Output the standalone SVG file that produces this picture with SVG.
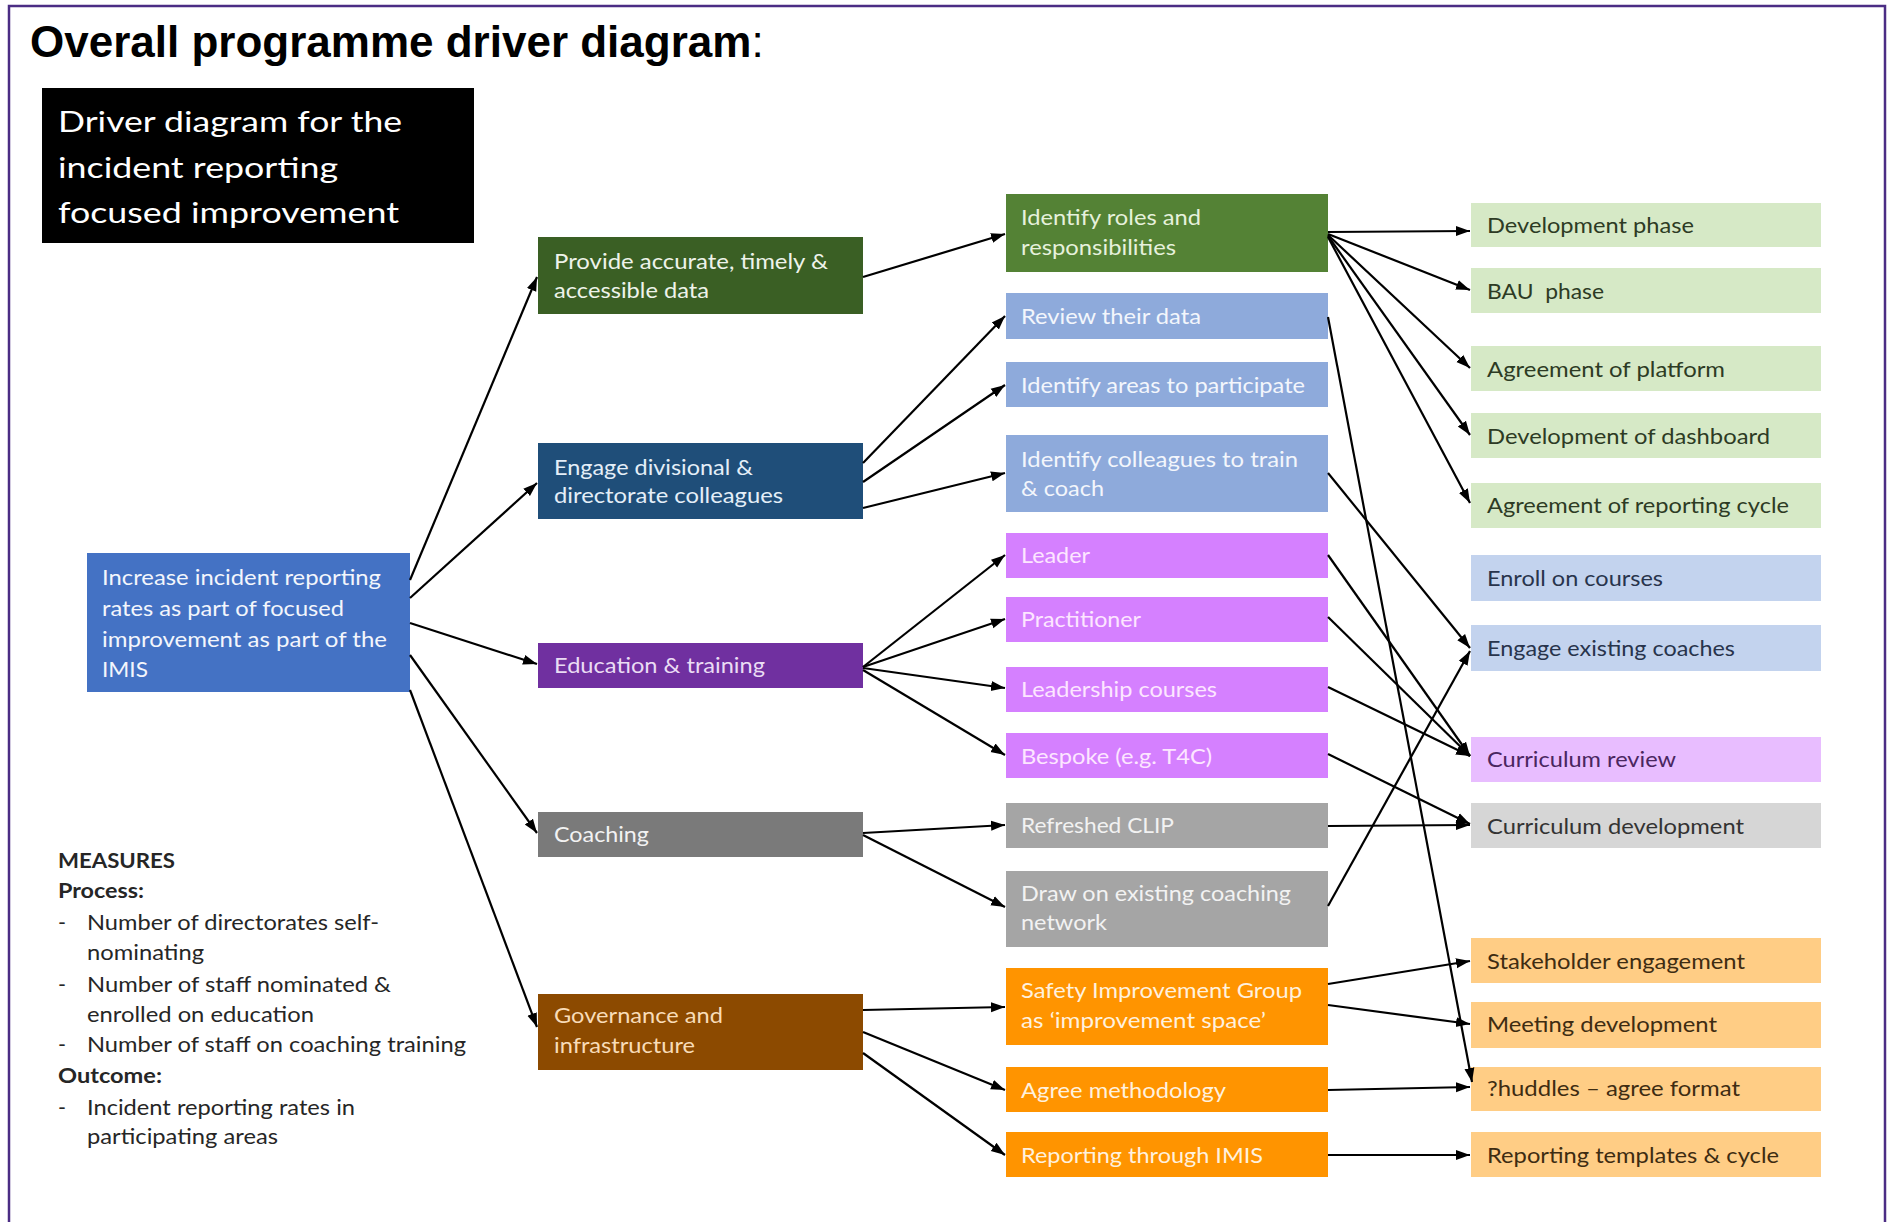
<svg xmlns="http://www.w3.org/2000/svg" width="1887" height="1222" viewBox="0 0 1887 1222">
<defs>
<marker id="ah" markerUnits="userSpaceOnUse" markerWidth="16" markerHeight="12" refX="14" refY="6" orient="auto"><path d="M0,1 L14,6 L0,11 z" fill="#000"/></marker>
<style>
.t{font-family:Lato,"Open Sans","DejaVu Sans",sans-serif;font-size:22px}
.bt{font-family:Lato,"Open Sans","DejaVu Sans",sans-serif;font-size:29px;fill:#fff}
.m{font-family:Lato,"Open Sans","DejaVu Sans",sans-serif;font-size:21.5px;fill:#262626}
.mb{font-weight:bold}
.c line{stroke:#000;stroke-width:2.2;marker-end:url(#ah)}
.w1{fill:#eef3ea}
.wb{fill:#e4eef8}
.wp{fill:#eadcf4}
.wg{fill:#f2f2f2}
.wo{fill:#f8dcb8}
.wr{fill:#e6f1dc}
.wl{fill:#f3f6fc}
.wv{fill:#fde6ff}
.wy{fill:#fff1de}
.d3g{fill:#2d3b24}
.d3b{fill:#28344c}
.d3p{fill:#4a2660}
.d3k{fill:#333}
.d3o{fill:#3e2c12}
</style>
</defs>
<rect width="1887" height="1222" fill="#fff"/>
<path d="M9,1222 V6 H1885 V1222" fill="none" stroke="#4b2d84" stroke-width="2.5"/>
<g id="title"><text x="30" y="57" font-family="'Liberation Sans',Arial,sans-serif" font-size="44" fill="#000"><tspan font-weight="bold">Overall programme driver diagram</tspan>:</text></g>

<g id="header-box">
<rect x="42" y="88" width="432" height="155" fill="#000"/>
<text class="bt" x="58" y="132" textLength="344" lengthAdjust="spacingAndGlyphs">Driver diagram for the</text>
<text class="bt" x="58" y="177.5" textLength="280" lengthAdjust="spacingAndGlyphs">incident reporting</text>
<text class="bt" x="58" y="223" textLength="341" lengthAdjust="spacingAndGlyphs">focused improvement</text>
</g>

<g id="measures">
<text class="m mb" x="58" y="868" textLength="117" lengthAdjust="spacingAndGlyphs">MEASURES</text>
<text class="m mb" x="58" y="898" textLength="86" lengthAdjust="spacingAndGlyphs">Process:</text>
<text class="m" x="58" y="930">-</text>
<text class="m" x="87" y="930" textLength="292" lengthAdjust="spacingAndGlyphs">Number of directorates self-</text>
<text class="m" x="87" y="960" textLength="117" lengthAdjust="spacingAndGlyphs">nominating</text>
<text class="m" x="58" y="992">-</text>
<text class="m" x="87" y="992" textLength="304" lengthAdjust="spacingAndGlyphs">Number of staff nominated &amp;</text>
<text class="m" x="87" y="1022" textLength="227" lengthAdjust="spacingAndGlyphs">enrolled on education</text>
<text class="m" x="58" y="1052">-</text>
<text class="m" x="87" y="1052" textLength="379" lengthAdjust="spacingAndGlyphs">Number of staff on coaching training</text>
<text class="m mb" x="58" y="1083" textLength="104" lengthAdjust="spacingAndGlyphs">Outcome:</text>
<text class="m" x="58" y="1115">-</text>
<text class="m" x="87" y="1115" textLength="268" lengthAdjust="spacingAndGlyphs">Incident reporting rates in</text>
<text class="m" x="87" y="1144" textLength="191" lengthAdjust="spacingAndGlyphs">participating areas</text>
</g>

<g id="goal">
<rect x="87" y="553" width="323" height="139" fill="#4472c4"/>
<text class="t wl" x="102" y="585" textLength="279" lengthAdjust="spacingAndGlyphs">Increase incident reporting</text>
<text class="t wl" x="102" y="616" textLength="242" lengthAdjust="spacingAndGlyphs">rates as part of focused</text>
<text class="t wl" x="102" y="647" textLength="285" lengthAdjust="spacingAndGlyphs">improvement as part of the</text>
<text class="t wl" x="102" y="677" textLength="46" lengthAdjust="spacingAndGlyphs">IMIS</text>
</g>

<g id="p1">
<rect x="538" y="237" width="325" height="77" fill="#3a5f24"/>
<text class="t w1" x="554" y="269" textLength="274" lengthAdjust="spacingAndGlyphs">Provide accurate, timely &amp;</text>
<text class="t w1" x="554" y="298" textLength="155" lengthAdjust="spacingAndGlyphs">accessible data</text>
</g>
<g id="p2">
<rect x="538" y="443" width="325" height="76" fill="#1f4e79"/>
<text class="t wb" x="554" y="475" textLength="199" lengthAdjust="spacingAndGlyphs">Engage divisional &amp;</text>
<text class="t wb" x="554" y="503" textLength="229" lengthAdjust="spacingAndGlyphs">directorate colleagues</text>
</g>
<g id="p3">
<rect x="538" y="643" width="325" height="45" fill="#7030a0"/>
<text class="t wp" x="554" y="673" textLength="211" lengthAdjust="spacingAndGlyphs">Education &amp; training</text>
</g>
<g id="p4">
<rect x="538" y="812" width="325" height="45" fill="#7a7a7a"/>
<text class="t wg" x="554" y="842" textLength="95" lengthAdjust="spacingAndGlyphs">Coaching</text>
</g>
<g id="p5">
<rect x="538" y="994" width="325" height="76" fill="#8c4a00"/>
<text class="t wo" x="554" y="1023" textLength="169" lengthAdjust="spacingAndGlyphs">Governance and</text>
<text class="t wo" x="554" y="1053" textLength="141" lengthAdjust="spacingAndGlyphs">infrastructure</text>
</g>

<g id="s1">
<rect x="1006" y="194" width="322" height="78" fill="#548235"/>
<text class="t wr" x="1021" y="225" textLength="180" lengthAdjust="spacingAndGlyphs">Identify roles and</text>
<text class="t wr" x="1021" y="255" textLength="155" lengthAdjust="spacingAndGlyphs">responsibilities</text>
</g>
<g id="s2">
<rect x="1006" y="293" width="322" height="46" fill="#8eaadb"/>
<text class="t wl" x="1021" y="324" textLength="180" lengthAdjust="spacingAndGlyphs">Review their data</text>
</g>
<g id="s3">
<rect x="1006" y="362" width="322" height="45" fill="#8eaadb"/>
<text class="t wl" x="1021" y="393" textLength="284" lengthAdjust="spacingAndGlyphs">Identify areas to participate</text>
</g>
<g id="s4">
<rect x="1006" y="435" width="322" height="77" fill="#8eaadb"/>
<text class="t wl" x="1021" y="467" textLength="277" lengthAdjust="spacingAndGlyphs">Identify colleagues to train</text>
<text class="t wl" x="1021" y="496" textLength="83" lengthAdjust="spacingAndGlyphs">&amp; coach</text>
</g>
<g id="s5">
<rect x="1006" y="533" width="322" height="45" fill="#d580ff"/>
<text class="t wv" x="1021" y="563" textLength="69" lengthAdjust="spacingAndGlyphs">Leader</text>
</g>
<g id="s6">
<rect x="1006" y="597" width="322" height="45" fill="#d580ff"/>
<text class="t wv" x="1021" y="627" textLength="120" lengthAdjust="spacingAndGlyphs">Practitioner</text>
</g>
<g id="s7">
<rect x="1006" y="667" width="322" height="45" fill="#d580ff"/>
<text class="t wv" x="1021" y="697" textLength="196" lengthAdjust="spacingAndGlyphs">Leadership courses</text>
</g>
<g id="s8">
<rect x="1006" y="733" width="322" height="45" fill="#d580ff"/>
<text class="t wv" x="1021" y="764" textLength="191" lengthAdjust="spacingAndGlyphs">Bespoke (e.g. T4C)</text>
</g>
<g id="s9">
<rect x="1006" y="803" width="322" height="45" fill="#a5a5a5"/>
<text class="t wg" x="1021" y="833" textLength="153" lengthAdjust="spacingAndGlyphs">Refreshed CLIP</text>
</g>
<g id="s10">
<rect x="1006" y="871" width="322" height="76" fill="#a5a5a5"/>
<text class="t wg" x="1021" y="901" textLength="270" lengthAdjust="spacingAndGlyphs">Draw on existing coaching</text>
<text class="t wg" x="1021" y="930" textLength="86" lengthAdjust="spacingAndGlyphs">network</text>
</g>
<g id="s11">
<rect x="1006" y="968" width="322" height="77" fill="#ff9400"/>
<text class="t wy" x="1021" y="998" textLength="281" lengthAdjust="spacingAndGlyphs">Safety Improvement Group</text>
<text class="t wy" x="1021" y="1028" textLength="245" lengthAdjust="spacingAndGlyphs">as ‘improvement space’</text>
</g>
<g id="s12">
<rect x="1006" y="1067" width="322" height="45" fill="#ff9400"/>
<text class="t wy" x="1021" y="1098" textLength="205" lengthAdjust="spacingAndGlyphs">Agree methodology</text>
</g>
<g id="s13">
<rect x="1006" y="1132" width="322" height="45" fill="#ff9400"/>
<text class="t wy" x="1021" y="1163" textLength="242" lengthAdjust="spacingAndGlyphs">Reporting through IMIS</text>
</g>

<g id="c1">
<rect x="1471" y="203" width="350" height="44" fill="#d6e9c6"/>
<text class="t d3g" x="1487" y="233" textLength="207" lengthAdjust="spacingAndGlyphs">Development phase</text>
</g>
<g id="c2">
<rect x="1471" y="268" width="350" height="45" fill="#d6e9c6"/>
<text class="t d3g" x="1487" y="299" textLength="117" lengthAdjust="spacingAndGlyphs" style="white-space:pre">BAU  phase</text>
</g>
<g id="c3">
<rect x="1471" y="346" width="350" height="45" fill="#d6e9c6"/>
<text class="t d3g" x="1487" y="377" textLength="238" lengthAdjust="spacingAndGlyphs">Agreement of platform</text>
</g>
<g id="c4">
<rect x="1471" y="413" width="350" height="45" fill="#d6e9c6"/>
<text class="t d3g" x="1487" y="444" textLength="283" lengthAdjust="spacingAndGlyphs">Development of dashboard</text>
</g>
<g id="c5">
<rect x="1471" y="483" width="350" height="45" fill="#d6e9c6"/>
<text class="t d3g" x="1487" y="513" textLength="302" lengthAdjust="spacingAndGlyphs">Agreement of reporting cycle</text>
</g>
<g id="c6">
<rect x="1471" y="555" width="350" height="46" fill="#c3d3ee"/>
<text class="t d3b" x="1487" y="586" textLength="176" lengthAdjust="spacingAndGlyphs">Enroll on courses</text>
</g>
<g id="c7">
<rect x="1471" y="625" width="350" height="46" fill="#c3d3ee"/>
<text class="t d3b" x="1487" y="656" textLength="248" lengthAdjust="spacingAndGlyphs">Engage existing coaches</text>
</g>
<g id="c8">
<rect x="1471" y="737" width="350" height="45" fill="#e8bdff"/>
<text class="t d3p" x="1487" y="767" textLength="189" lengthAdjust="spacingAndGlyphs">Curriculum review</text>
</g>
<g id="c9">
<rect x="1471" y="803" width="350" height="45" fill="#d6d6d6"/>
<text class="t d3k" x="1487" y="834" textLength="257" lengthAdjust="spacingAndGlyphs">Curriculum development</text>
</g>
<g id="c10">
<rect x="1471" y="938" width="350" height="45" fill="#ffcd85"/>
<text class="t d3o" x="1487" y="969" textLength="258" lengthAdjust="spacingAndGlyphs">Stakeholder engagement</text>
</g>
<g id="c11">
<rect x="1471" y="1002" width="350" height="46" fill="#ffcd85"/>
<text class="t d3o" x="1487" y="1032" textLength="230" lengthAdjust="spacingAndGlyphs">Meeting development</text>
</g>
<g id="c12">
<rect x="1471" y="1067" width="350" height="44" fill="#ffcd85"/>
<text class="t d3o" x="1487" y="1096" textLength="253" lengthAdjust="spacingAndGlyphs">?huddles – agree format</text>
</g>
<g id="c13">
<rect x="1471" y="1132" width="350" height="45" fill="#ffcd85"/>
<text class="t d3o" x="1487" y="1163" textLength="292" lengthAdjust="spacingAndGlyphs">Reporting templates &amp; cycle</text>
</g>

<g id="connectors" class="c">
<line x1="410" y1="580" x2="537" y2="277"/>
<line x1="410" y1="598" x2="537" y2="483"/>
<line x1="410" y1="623" x2="537" y2="664"/>
<line x1="410" y1="655" x2="537" y2="833"/>
<line x1="410" y1="690" x2="537" y2="1027"/>
<line x1="863" y1="277" x2="1005" y2="234"/>
<line x1="863" y1="463" x2="1005" y2="316"/>
<line x1="863" y1="482" x2="1005" y2="385"/>
<line x1="863" y1="508" x2="1005" y2="473"/>
<line x1="863" y1="667" x2="1005" y2="555"/>
<line x1="863" y1="667" x2="1005" y2="619"/>
<line x1="863" y1="668" x2="1005" y2="688"/>
<line x1="863" y1="670" x2="1005" y2="755"/>
<line x1="863" y1="833" x2="1005" y2="825"/>
<line x1="863" y1="835" x2="1005" y2="907"/>
<line x1="863" y1="1010" x2="1005" y2="1007"/>
<line x1="863" y1="1032" x2="1005" y2="1090"/>
<line x1="863" y1="1053" x2="1005" y2="1155"/>
<line x1="1328" y1="232" x2="1470" y2="231"/>
<line x1="1328" y1="234" x2="1470" y2="290"/>
<line x1="1328" y1="235" x2="1470" y2="368"/>
<line x1="1328" y1="236" x2="1470" y2="435"/>
<line x1="1328" y1="237" x2="1470" y2="503"/>
<line x1="1328" y1="317" x2="1472" y2="1082"/>
<line x1="1328" y1="473" x2="1470" y2="648"/>
<line x1="1328" y1="555" x2="1470" y2="756"/>
<line x1="1328" y1="617" x2="1470" y2="756"/>
<line x1="1328" y1="687" x2="1470" y2="756"/>
<line x1="1328" y1="754" x2="1470" y2="824"/>
<line x1="1328" y1="826" x2="1470" y2="825"/>
<line x1="1328" y1="906" x2="1470" y2="651"/>
<line x1="1328" y1="984" x2="1470" y2="961"/>
<line x1="1328" y1="1005" x2="1470" y2="1024"/>
<line x1="1328" y1="1090" x2="1470" y2="1087"/>
<line x1="1328" y1="1155" x2="1470" y2="1155"/>
</g>
</svg>
